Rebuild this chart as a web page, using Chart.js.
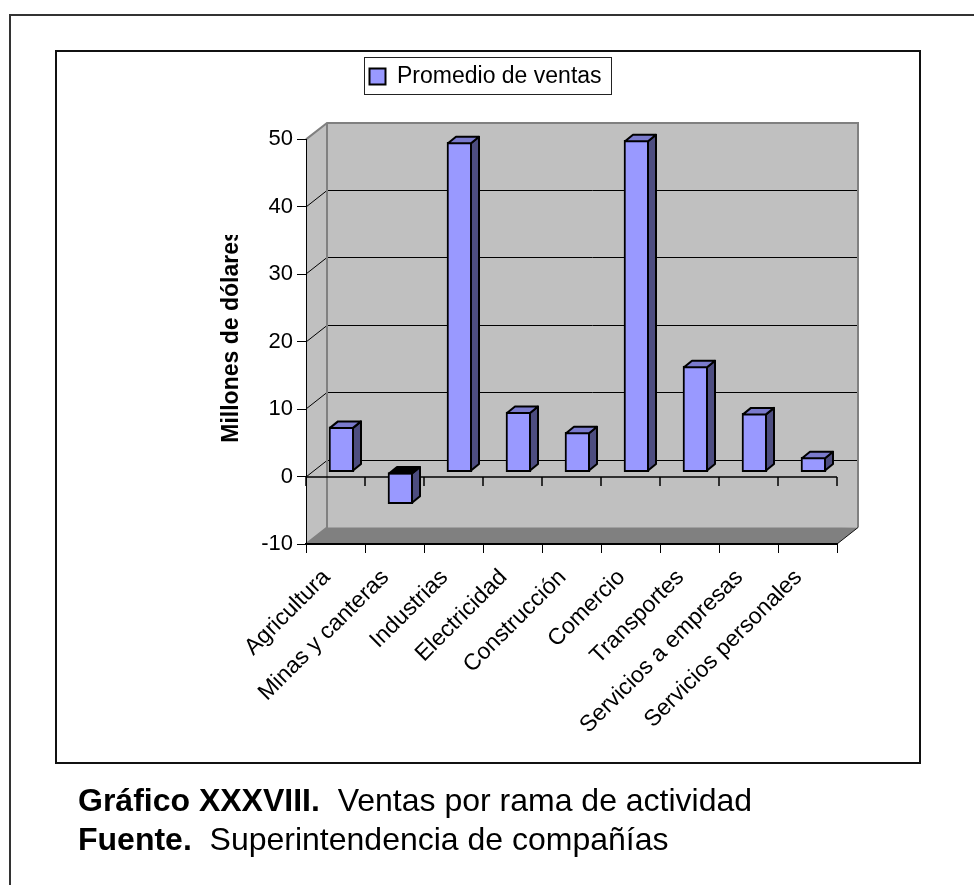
<!DOCTYPE html>
<html lang="es">
<head>
<meta charset="utf-8">
<title>Ventas por rama de actividad</title>
<script src="https://cdn.jsdelivr.net/npm/chart.js@4"></script>
<style>
  html, body { margin: 0; padding: 0; background: #fff; overflow: hidden; }
  #page { position: relative; width: 974px; height: 885px; font-family: "Liberation Sans", Arial, sans-serif; color: #000; }
  #marco { position: absolute; left: 9px; top: 14px; width: 970px; height: 880px; border: 2px solid #333; box-sizing: border-box; }
  #caja { position: absolute; left: 55px; top: 50px; width: 866px; height: 714px; border: 2px solid #111; box-sizing: border-box; }
  #wrap { position: absolute; left: 0; top: 0; width: 974px; height: 885px; }
  .pie { position: absolute; left: 78px; font-size: 32px; line-height: 39px; white-space: pre; }
</style>
</head>
<body>
<div id="page">
  <div id="marco"></div>
  <div id="caja"></div>
  <div id="wrap"><canvas id="grafico" width="974" height="885"></canvas></div>
  <div class="pie" style="top:781px"><b>Gráfico XXXVIII.</b>  Ventas por rama de actividad</div>
  <div class="pie" style="top:820px"><b>Fuente.</b>  Superintendencia de compañías</div>
</div>
<script>
const categorias = ['Agricultura', 'Minas y canteras', 'Industrias', 'Electricidad', 'Construcción',
  'Comercio', 'Transportes', 'Servicios a empresas', 'Servicios personales'];
const promedioVentas = [6.7, -4.7, 48.9, 8.9, 5.9, 49.2, 15.7, 8.7, 2.2];
const serie = 'Promedio de ventas';
const tituloY = 'Millones de dólares';

// profundidad del falso 3D
const fondoX = 21, fondoY = -16.5;
const barraX = 6, barraY = -4.5;
const cuboX = 8, cuboY = -6.5;

const falso3d = {
  id: 'falso3d',
  afterLayout(chart) {
    // la leyenda va separada del area del grafico
    const l = chart.legend;
    l.left = 361.5;
    l.right = l.left + l.lineWidths[0] + 16;
    l.width = l.right - l.left;
    l.top = 57;
    l.bottom = l.top + l.height;
  },
  beforeDraw(chart) {
    const { ctx, chartArea: a, scales: { y } } = chart;
    ctx.save();
    ctx.fillStyle = '#c0c0c0';
    ctx.beginPath();
    ctx.moveTo(a.left, a.top);
    ctx.lineTo(a.left + fondoX, a.top + fondoY);
    ctx.lineTo(a.right + fondoX, a.top + fondoY);
    ctx.lineTo(a.right + fondoX, a.bottom + fondoY);
    ctx.lineTo(a.left, a.bottom);
    ctx.closePath();
    ctx.fill();

    // piso
    ctx.fillStyle = '#808080';
    ctx.beginPath();
    ctx.moveTo(a.left, a.bottom);
    ctx.lineTo(a.left + fondoX, a.bottom + fondoY);
    ctx.lineTo(a.right + fondoX, a.bottom + fondoY);
    ctx.lineTo(a.right, a.bottom);
    ctx.closePath();
    ctx.fill();

    // rejilla
    ctx.strokeStyle = '#000';
    ctx.lineWidth = 1;
    y.ticks.forEach(t => {
      if (t.value === y.max || t.value === y.min) return;
      const py = Math.round(y.getPixelForValue(t.value));
      ctx.beginPath();
      ctx.moveTo(a.left, py);
      ctx.lineTo(a.left + fondoX, py + fondoY);
      ctx.lineTo(a.right + fondoX, py + fondoY);
      ctx.stroke();
    });

    // bordes de las paredes
    ctx.strokeStyle = '#808080';
    ctx.lineWidth = 2;
    ctx.beginPath();
    ctx.moveTo(a.left, a.top);
    ctx.lineTo(a.left + fondoX, a.top + fondoY);
    ctx.lineTo(a.right + fondoX, a.top + fondoY);
    ctx.lineTo(a.right + fondoX, a.bottom + fondoY);
    ctx.moveTo(a.left + fondoX, a.top + fondoY);
    ctx.lineTo(a.left + fondoX, a.bottom + fondoY);
    ctx.lineTo(a.left, a.bottom);
    ctx.stroke();
    ctx.strokeStyle = '#111';
    ctx.lineWidth = 1;
    ctx.beginPath();
    ctx.moveTo(a.right, a.bottom);
    ctx.lineTo(a.right + fondoX, a.bottom + fondoY);
    ctx.stroke();
    ctx.restore();
  },
  beforeDatasetsDraw(chart) {
    const { ctx, chartArea: a, scales: { y } } = chart;
    // eje de categorias en el cero, con sus marcas
    const y0 = Math.round(y.getPixelForValue(0));
    const paso = (a.right - a.left) / categorias.length;
    ctx.save();
    ctx.strokeStyle = '#000';
    ctx.lineWidth = 1.5;
    ctx.beginPath();
    ctx.moveTo(a.left, y0);
    ctx.lineTo(a.right, y0);
    for (let i = 0; i <= categorias.length; i++) {
      ctx.moveTo(a.left + i * paso, y0);
      ctx.lineTo(a.left + i * paso, y0 + 9);
    }
    ctx.stroke();
    ctx.restore();

    ctx.save();
    ctx.translate(barraX, barraY);
  },
  afterDatasetsDraw(chart) {
    const { ctx } = chart;
    ctx.strokeStyle = '#000';
    ctx.lineWidth = 2;
    ctx.lineJoin = 'round';
    chart.getDatasetMeta(0).data.forEach((el, i) => {
      const der = el.x + el.width / 2 - 1;
      const izq = el.x - el.width / 2 + 1;
      const arr = Math.min(el.y, el.base) + 1;
      const aba = Math.max(el.y, el.base) - 1;
      ctx.fillStyle = '#4d4d80';
      ctx.beginPath();
      ctx.moveTo(der, arr);
      ctx.lineTo(der + cuboX, arr + cuboY);
      ctx.lineTo(der + cuboX, aba + cuboY);
      ctx.lineTo(der, aba);
      ctx.closePath();
      ctx.fill();
      ctx.stroke();
      ctx.fillStyle = promedioVentas[i] < 0 ? '#000' : '#7a7acc';
      ctx.beginPath();
      ctx.moveTo(izq, arr);
      ctx.lineTo(izq + cuboX, arr + cuboY);
      ctx.lineTo(der + cuboX, arr + cuboY);
      ctx.lineTo(der, arr);
      ctx.closePath();
      ctx.fill();
      ctx.stroke();
    });
    ctx.restore();
  },
  afterDraw(chart) {
    const { ctx } = chart;
    ctx.save();
    // marco de la leyenda
    ctx.strokeStyle = '#222';
    ctx.lineWidth = 1;
    ctx.strokeRect(364.5, 57.5, 247, 37);
    // titulo del eje, recortado como en el original
    ctx.beginPath();
    ctx.rect(200, 235, 60, 240);
    ctx.clip();
    ctx.translate(238, 336);
    ctx.rotate(-Math.PI / 2);
    ctx.font = 'bold 23px "Liberation Sans"';
    ctx.textAlign = 'center';
    ctx.textBaseline = 'alphabetic';
    ctx.fillStyle = '#000';
    ctx.fillText(tituloY, 0, 0);
    ctx.restore();
  }
};

Chart.defaults.font.family = '"Liberation Sans", Arial, sans-serif';
Chart.defaults.color = '#000';

new Chart(document.getElementById('grafico'), {
  type: 'bar',
  data: {
    labels: categorias,
    datasets: [{
      label: serie,
      data: promedioVentas,
      backgroundColor: '#9999ff',
      borderColor: '#000',
      borderWidth: 2,
      borderSkipped: false,
      barThickness: 25,
      clip: false
    }]
  },
  options: {
    responsive: false,
    animation: false,
    layout: { padding: { top: 98.4, right: 137, left: 0, bottom: 0 } },
    plugins: {
      tooltip: { enabled: false },
      legend: {
        position: 'top',
        align: 'start',
        labels: {
          boxWidth: 16,
          boxHeight: 16,
          padding: 8,
          font: { size: 23 },
          color: '#000'
        }
      }
    },
    scales: {
      x: {
        afterFit(scale) { scale.height = 341; },
        grid: { drawOnChartArea: false, tickLength: 9, color: '#000', lineWidth: 1 },
        border: { color: '#000', width: 2 },
        ticks: { autoSkip: false, minRotation: 45, maxRotation: 45, padding: 11, labelOffset: -9, font: { size: 23 }, color: '#000' }
      },
      y: {
        min: -10,
        max: 50,
        afterFit(scale) { scale.width = 306; },
        grid: { drawOnChartArea: false, tickLength: 9, color: '#000', lineWidth: 1 },
        border: { color: '#000', width: 1 },
        ticks: { stepSize: 10, padding: 4, font: { size: 22 }, color: '#000' }
      }
    }
  },
  plugins: [falso3d]
});
</script>
</body>
</html>
